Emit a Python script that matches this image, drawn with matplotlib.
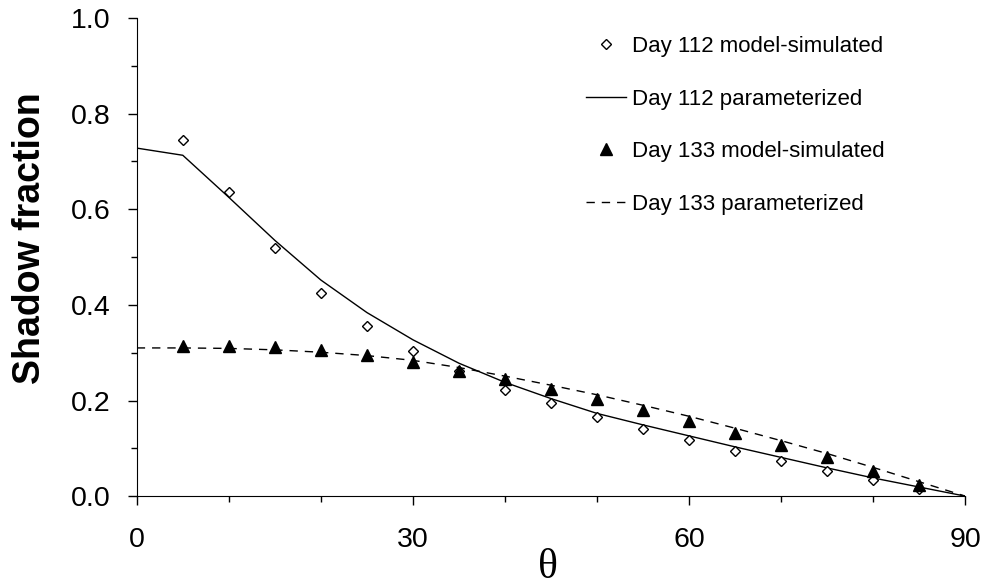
import matplotlib
matplotlib.use("Agg")
import matplotlib.pyplot as plt
from matplotlib.ticker import MultipleLocator

plt.rcParams['font.family'] = ['Liberation Sans', 'DejaVu Sans']

# modellsimulerade punkter
theta_pts = [5, 10, 15, 20, 25, 30, 35, 40, 45, 50, 55, 60, 65, 70, 75, 80, 85]
day112_sim = [0.746, 0.637, 0.518, 0.425, 0.356, 0.304, 0.262, 0.223, 0.194, 0.166,
              0.140, 0.117, 0.095, 0.073, 0.053, 0.033, 0.014]
day133_sim = [0.315, 0.314, 0.311, 0.306, 0.295, 0.281, 0.261, 0.246, 0.224, 0.203,
              0.180, 0.157, 0.133, 0.107, 0.081, 0.053, 0.023]

# parametriserade kurvor
theta_line = [0, 5, 10, 15, 20, 25, 30, 35, 40, 45, 50, 55, 60, 65, 70, 75, 80, 85, 90]
day112_par = [0.728, 0.713, 0.625, 0.535, 0.452, 0.384, 0.327, 0.278, 0.238, 0.204,
              0.173, 0.149, 0.126, 0.103, 0.081, 0.059, 0.038, 0.019, 0.0]
day133_par = [0.310, 0.310, 0.309, 0.306, 0.301, 0.294, 0.284, 0.269, 0.251, 0.232,
              0.212, 0.190, 0.167, 0.142, 0.116, 0.089, 0.060, 0.030, 0.0]

fig = plt.figure(figsize=(9.84, 5.83), dpi=100)
ax = fig.add_axes([0.139, 0.149, 0.842, 0.820])

ax.plot(theta_pts, day112_sim, linestyle="none", marker="D", markersize=5.5,
        markerfacecolor="white", markeredgecolor="black", markeredgewidth=1.0,
        label="Day 112 model-simulated", zorder=3)
ax.plot(theta_line, day112_par, color="black", linewidth=1.0,
        label="Day 112 parameterized", zorder=2)
ax.plot(theta_pts, day133_sim, linestyle="none", marker="^", markersize=8,
        color="black", label="Day 133 model-simulated", zorder=4)
ax.plot(theta_line, day133_par, color="black", linewidth=1.0, linestyle=(0, (6, 5)),
        label="Day 133 parameterized", zorder=2)

ax.set_xlim(0, 90)
ax.set_ylim(0, 1.0)
ax.set_xticks([0, 30, 60, 90])
ax.xaxis.set_minor_locator(MultipleLocator(10))
ax.set_yticks([0.0, 0.2, 0.4, 0.6, 0.8, 1.0])
ax.set_yticklabels(["0.0", "0.2", "0.4", "0.6", "0.8", "1.0"])
ax.yaxis.set_minor_locator(MultipleLocator(0.1))
ax.tick_params(which="both", direction="out", labelsize=20.5, width=1, color="black")
ax.tick_params(which="major", length=6.5)
ax.tick_params(which="minor", length=4.5)
ax.tick_params(axis="y", which="major", pad=12.5)
ax.tick_params(axis="x", which="major", pad=16)
ax.spines["top"].set_visible(False)
ax.spines["right"].set_visible(False)

ax.set_ylabel("Shadow fraction", fontsize=27, fontweight="bold")
ax.yaxis.set_label_coords(-0.107, 0.54)
ax.set_xlabel("θ", fontsize=30, family=["Liberation Serif", "DejaVu Serif"])
ax.xaxis.set_label_coords(0.496, -0.109)

ax.legend(loc="upper left", bbox_to_anchor=(0.5175, 1.004), frameon=False, fontsize=16,
          labelspacing=1.42, handlelength=1.8, handletextpad=0.3, markerscale=1.0)

fig.savefig("out.png", dpi=100)
